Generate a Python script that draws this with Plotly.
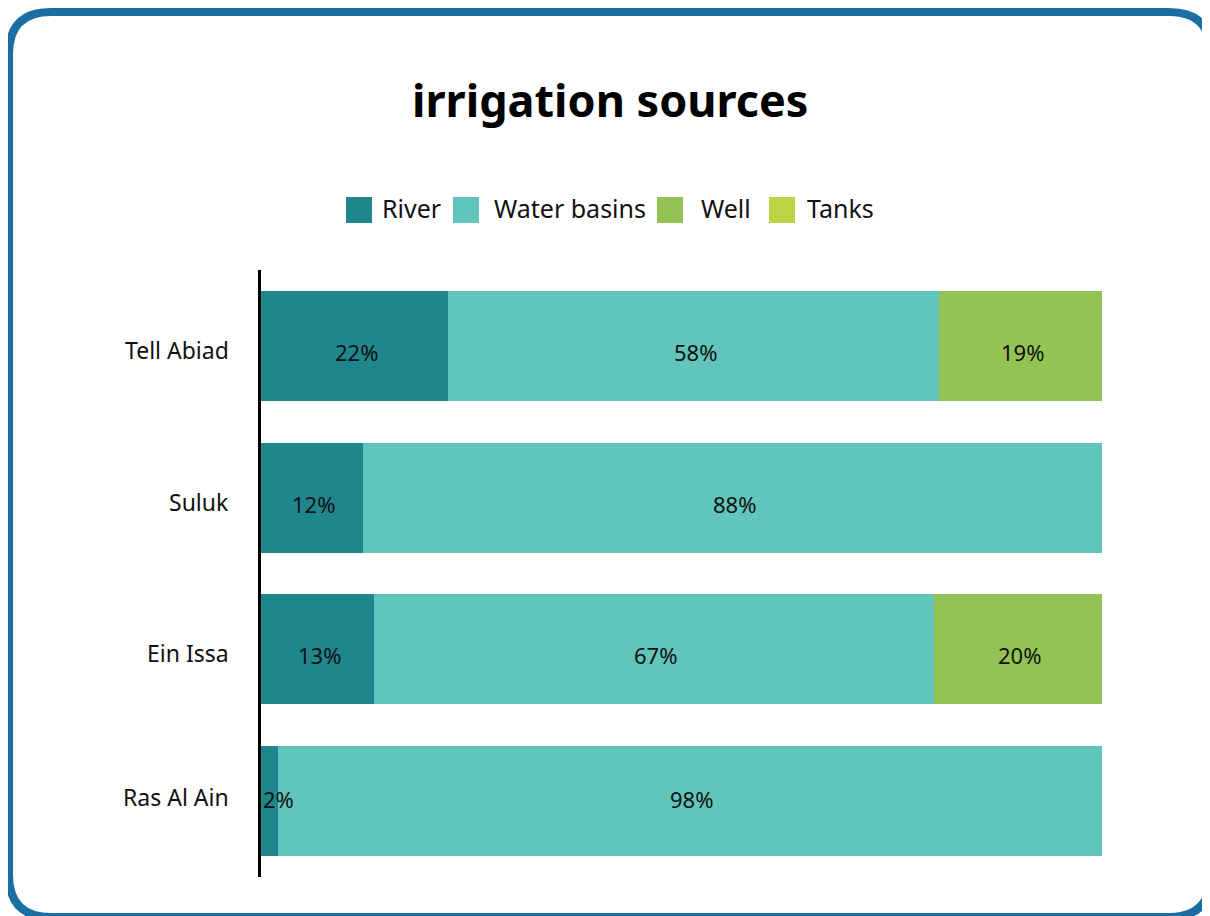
import plotly.graph_objects as go

# data
regions = ["Tell Abiad", "Suluk", "Ein Issa", "Ras Al Ain"]
sources = ["River", "Water basins", "Well", "Tanks"]
river = [22.2, 12.1, 13.4, 2.0]
water_basins = [58.4, 87.9, 66.6, 98.0]
well = [19.4, 0, 20.0, 0]
tanks = [0, 0, 0, 0]
colors = ["#1f868e", "#62c5bc", "#92c353", "#bdd444"]

series = [river, water_basins, well, tanks]
FONT = "Noto Sans"

# the page puts the figure 8px in from the corner, so pixel positions
# read off the reference are shifted by OFF
OFF = 8
W, H = 1210 - OFF, 916 - OFF
L, R, T, B = 261 - OFF, 1102 - OFF, 270 - OFF, 877 - OFF

# small vertical nudges of the text in each row (style only)
row_dy = [-5, -5, -5, 3]


def px(x):
    return (x - OFF - L) / (R - L)


def py(y):
    return (B - (y - OFF)) / (B - T)


fig = go.Figure()
for name, vals, col in zip(sources, series, colors):
    fig.add_trace(go.Bar(
        y=regions, x=vals, name=name, orientation="h",
        marker=dict(color=col, line=dict(width=0)),
        showlegend=False, hoverinfo="x+name",
    ))

annotations = []

# segment labels, on top of all bars
for i, reg in enumerate(regions):
    start = 0
    for vals in series:
        v = vals[i]
        if v > 0:
            small = v < 5
            annotations.append(dict(
                x=start if small else start + v / 2, y=reg, xref="x", yref="y",
                text=f"{v:.0f}%", showarrow=False,
                xanchor="left" if small else "center", yanchor="middle",
                yshift=row_dy[i] - 1, xshift=0 if small else 2,
                font=dict(family=FONT, size=22, color="#111111")))
        start += v

# category labels (drawn as annotations to sit like the reference)
for i, reg in enumerate(regions):
    annotations.append(dict(x=0, y=reg, xref="paper", yref="y", text=reg,
                            showarrow=False, xanchor="right", yanchor="middle",
                            xshift=-30, yshift=row_dy[i] + 1,
                            font=dict(family=FONT, size=23, color="#111111")))

# legend drawn by hand (bigger swatches than plotly's)
box_x = [346, 453, 657, 769]
text_x = [380, 492, 699, 805]
shapes = []
for name, col, bx, tx in zip(sources, colors, box_x, text_x):
    shapes.append(dict(type="rect", xref="paper", yref="paper",
                       x0=px(bx), x1=px(bx + 26), y0=py(223), y1=py(197),
                       fillcolor=col, line=dict(width=0)))
    annotations.append(dict(x=px(tx), y=py(208), xref="paper", yref="paper",
                            text=name, showarrow=False, xanchor="left",
                            yanchor="middle",
                            font=dict(family=FONT, size=25, color="#111111")))

# rounded frame
x0, y0, x1, y1, r = 9, 12, 1211, 917, 42
path = (f"M {px(x0 + r)},{py(y0)} L {px(x1 - r)},{py(y0)} "
        f"Q {px(x1)},{py(y0)} {px(x1)},{py(y0 + r)} "
        f"L {px(x1)},{py(y1 - r)} Q {px(x1)},{py(y1)} {px(x1 - r)},{py(y1)} "
        f"L {px(x0 + r)},{py(y1)} Q {px(x0)},{py(y1)} {px(x0)},{py(y1 - r)} "
        f"L {px(x0)},{py(y0 + r)} Q {px(x0)},{py(y0)} {px(x0 + r)},{py(y0)} Z")
shapes.append(dict(type="path", xref="paper", yref="paper", path=path,
                   line=dict(color="#1a6fa0", width=8), layer="above"))

annotations.append(dict(x=px(610), y=py(100), xref="paper", yref="paper",
                        text="<b>irrigation sources</b>", showarrow=False,
                        xanchor="center", yanchor="middle",
                        font=dict(family=FONT, size=45, color="#000000")))

fig.update_layout(
    width=W, height=H,
    barmode="stack", bargap=0.276,
    margin=dict(l=L, r=W - R, t=T, b=H - B, pad=0),
    paper_bgcolor="white", plot_bgcolor="white",
    shapes=shapes, annotations=annotations,
    showlegend=False,
    xaxis=dict(range=[0, 100], visible=False, fixedrange=True),
    yaxis=dict(categoryorder="array", categoryarray=regions[::-1],
               showline=True, linecolor="black", linewidth=3,
               showgrid=False, ticks="", showticklabels=False),
)

fig.write_html("out.html")
